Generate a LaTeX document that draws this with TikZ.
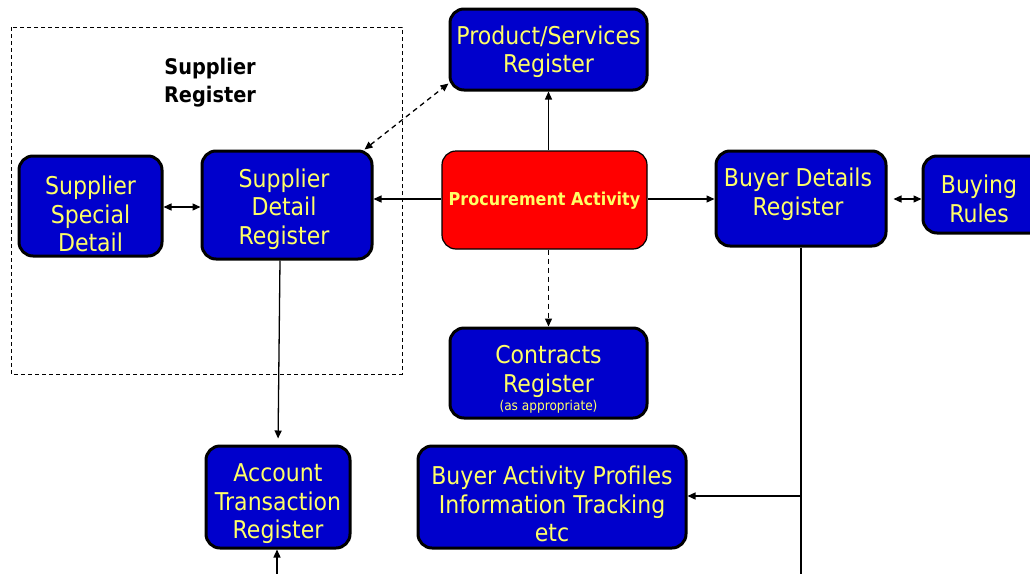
\documentclass[tikz,border=0pt]{standalone}
\usepackage{fontspec}
\usetikzlibrary{arrows.meta}
\newfontfamily\tah{DejaVu Sans}[FakeStretch=0.9]
\definecolor{regblue}{RGB}{0,0,204}
\definecolor{regyellow}{RGB}{255,255,102}
\definecolor{actred}{RGB}{255,0,0}
\tikzset{
  x=1pt, y=-1pt,
  regbox/.style={draw=black, line width=3pt, fill=regblue, rounded corners=14pt, inner sep=0pt},
  actbox/.style={draw=black, line width=1.2pt, fill=actred, rounded corners=14pt, inner sep=0pt},
  regtxt/.style={text=regyellow, align=center, inner sep=0pt, font=\tah\fontsize{24.5}{28.5}\selectfont},
  conn/.style={line width=1.3pt, -{Triangle[length=8pt,width=7pt]}},
  dconn/.style={line width=1.3pt, {Triangle[length=8pt,width=7pt]}-{Triangle[length=8pt,width=7pt]}},
  dashconn/.style={dash pattern=on 5pt off 4pt},
}
\begin{document}
\begin{tikzpicture}
\useasboundingbox (0,0) rectangle (1030,573);

% supplier register grouping
\draw[line width=0.9pt, dash pattern=on 4pt off 3pt] (11,27) rectangle (402,374);
\node[align=center, inner sep=0pt, font=\tah\bfseries\fontsize{21.5}{28}\selectfont] (srlab) at (210,83) {Supplier\\Register};

% registers
\node[regbox, minimum width=143pt, minimum height=100pt] (ssd) at (90.5,206) {};
\node[regtxt] (ssdt) at (90.5,214) {Supplier\\Special\\Detail};

\node[regbox, minimum width=170pt, minimum height=108pt] (sdr) at (287,205) {};
\node[regtxt] (sdrt) at (284,209) {Supplier\\Detail\\Register};

\node[regbox, minimum width=197pt, minimum height=81pt] (psr) at (548.5,49.5) {};
\node[regtxt] (psrt) at (548.5,51.5) {Product/Services\\Register};

\node[actbox, minimum width=205pt, minimum height=98pt] (pa) at (544.5,200) {};
\node[text=regyellow, inner sep=0pt, font=\tah\bfseries\fontsize{17.8}{20}\selectfont] (pat) at (544.5,201) {Procurement Activity};

\node[regbox, minimum width=170pt, minimum height=95pt] (bdr) at (801,198.5) {};
\node[regtxt] (bdrt) at (798,194) {Buyer Details\\Register};

\node[regbox, minimum width=124pt, minimum height=77pt] (brl) at (985,194.5) {};
\node[regtxt] (brlt) at (979,199) {Buying\\Rules};

\node[regbox, minimum width=197pt, minimum height=90pt] (cr) at (548.5,373) {};
\node[regtxt] (crt) at (548.5,371.5) {Contracts\\Register};
\node[text=regyellow, inner sep=0pt, font=\tah\fontsize{13.5}{15}\selectfont] (crs) at (548.5,407) {(as appropriate)};

\node[regbox, minimum width=144pt, minimum height=102pt] (atr) at (278,497) {};
\node[regtxt] (atrt) at (278,504) {Account\\Transaction\\Register};

\node[regbox, minimum width=268pt, minimum height=102pt] (bap) at (552,497) {};
\node[regtxt] (bapt) at (552,504) {Buyer Activity Profiles\\Information Tracking\\etc};

% free ends below the page edge
\coordinate (atrin) at (277,580);
\coordinate (bdrout) at (801,580);
\coordinate (bapjoin) at (801,496);
\coordinate (mainrow) at (0,199);

% connectors
\draw[conn] (psr.south |- pa.north) -- (psr.south);
\draw[conn] (pa.west |- mainrow) -- (sdr.east |- mainrow);
\draw[conn] (pa.east |- mainrow) -- (bdr.west |- mainrow);
\draw[conn, dashconn] (cr.north |- pa.south) -- (cr.north);
\draw[dconn, dashconn] ([xshift=-9pt]sdr.north east) -- ([yshift=8pt]psr.south west);
\draw[dconn] (ssd.east |- 0,207) -- (sdr.west |- 0,207);
\draw[dconn] ([xshift=6pt]bdr.east |- mainrow) -- (brl.west |- mainrow);
\draw[conn, shorten >=6pt] ([xshift=-7pt]sdr.south) -- (atr.north);
\draw[conn] (atrin) -- (atr.south -| atrin);
\draw[line width=1.3pt] (bdr.south) -- (bdrout);
\draw[conn] (bapjoin) -- (bap.east |- bapjoin);
\end{tikzpicture}
\end{document}
